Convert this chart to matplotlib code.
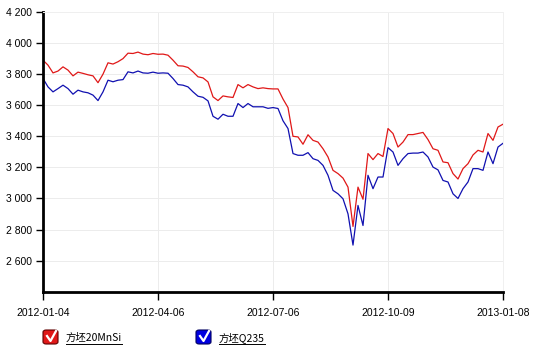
import matplotlib

matplotlib.use("Agg")
import matplotlib.pyplot as plt
from matplotlib.lines import Line2D
from matplotlib.patches import FancyBboxPatch
from matplotlib.ticker import FuncFormatter

plt.rcParams["font.family"] = ["Liberation Sans", "Noto Sans CJK SC", "DejaVu Sans"]

W, H = 535, 351

tick_labels = ["2012-01-04", "2012-04-06", "2012-07-06", "2012-10-09", "2013-01-08"]
series_names = ["方坯20MnSi", "方坯Q235"]

price_20mnsi = [
    3890, 3858, 3808, 3820, 3847, 3826, 3789, 3813, 3805, 3796,
    3789, 3745, 3800, 3873, 3865, 3880, 3900, 3935, 3933, 3942,
    3929, 3925, 3933, 3928, 3929, 3922, 3890, 3854, 3852, 3843,
    3815, 3783, 3776, 3750, 3654, 3630, 3660, 3654, 3650, 3733,
    3712, 3733, 3718, 3707, 3712, 3707, 3705, 3705, 3640, 3585,
    3400, 3396, 3349, 3410, 3374, 3363, 3320, 3267, 3181, 3160,
    3131, 3073, 2820, 3073, 2995, 3289, 3250, 3289, 3270, 3450,
    3418, 3331, 3363, 3411, 3411, 3418, 3425, 3379, 3320, 3310,
    3235, 3230, 3160, 3125, 3192, 3224, 3280, 3310, 3299, 3418,
    3374, 3460, 3478,
]
price_q235 = [
    3772, 3718, 3686, 3707, 3729, 3707, 3671, 3697, 3686, 3680,
    3665, 3630, 3686, 3761, 3751, 3761, 3765, 3815, 3808, 3820,
    3808, 3806, 3813, 3806, 3808, 3806, 3772, 3733, 3729, 3718,
    3686, 3658, 3651, 3628, 3529, 3510, 3542, 3529, 3529, 3611,
    3585, 3611, 3590, 3590, 3590, 3580, 3585, 3579, 3500, 3450,
    3289, 3278, 3278, 3295, 3256, 3245, 3213, 3149, 3052, 3030,
    2998, 2901, 2700, 2955, 2826, 3149, 3063, 3138, 3138, 3327,
    3299, 3213, 3256, 3289, 3292, 3292, 3299, 3267, 3202, 3184,
    3116, 3106, 3030, 3000, 3063, 3106, 3192, 3192, 3181, 3299,
    3224, 3331, 3355,
]
colors = ["#e01818", "#1010b0"]

fig = plt.figure(figsize=(W / 100, H / 100), dpi=100)
ax = fig.add_axes([43 / W, 1 - 291.7 / H, 460 / W, 279.7 / H])

x = list(range(len(price_20mnsi)))
ax.plot(x, price_20mnsi, color=colors[0], linewidth=0.9)
ax.plot(x, price_q235, color=colors[1], linewidth=0.9)

n = len(x) - 1
ax.set_xlim(0, n)
ax.set_ylim(2400, 4200)
ax.set_xticks([n * i / 4 for i in range(5)])
ax.set_xticklabels(tick_labels)
ax.set_yticks(range(2600, 4201, 200))
ax.yaxis.set_major_formatter(FuncFormatter(lambda v, p: f"{int(v):,}".replace(",", " ")))

ax.grid(True, color="#ececec", linewidth=0.7)
for side in ["top", "right"]:
    ax.spines[side].set_color("#f0f0f0")
    ax.spines[side].set_linewidth(0.7)
for side in ["left", "bottom"]:
    ax.spines[side].set_linewidth(2)
ax.tick_params(axis="y", length=5, width=1, labelsize=7.5, pad=3)
ax.tick_params(axis="x", length=6, width=1, labelsize=7.5, pad=6)

# legend with checkbox markers
legend_pos = [(43, 66), (196, 219)]
for (bx, tx), name, c in zip(legend_pos, series_names, colors):
    box = FancyBboxPatch((bx / W, 1 - 344 / H), 15 / W, 14 / H,
                         boxstyle="round,pad=0,rounding_size=0.006",
                         transform=fig.transFigure, facecolor=c if c != colors[1] else "#0000e0",
                         edgecolor="#600000" if c == colors[0] else "#000060", linewidth=0.8)
    fig.patches.append(box)
    fig.lines.append(Line2D([(bx + 4) / W, (bx + 7.5) / W, (bx + 13) / W],
                            [1 - 336 / H, 1 - 341 / H, 1 - 331 / H],
                            transform=fig.transFigure, color="white", linewidth=1.6))
    t = fig.text(tx / W, 1 - 337.5 / H, name, fontsize=7.5, va="center", ha="left",
                 family=["Noto Sans CJK SC", "DejaVu Sans"])
    fig.canvas.draw()
    bb = t.get_window_extent()
    fig.lines.append(Line2D([bb.x0 / W, bb.x1 / W], [1 - 343.5 / H, 1 - 343.5 / H],
                            transform=fig.transFigure, color="black", linewidth=0.7))

fig.savefig("out.png", dpi=100)
